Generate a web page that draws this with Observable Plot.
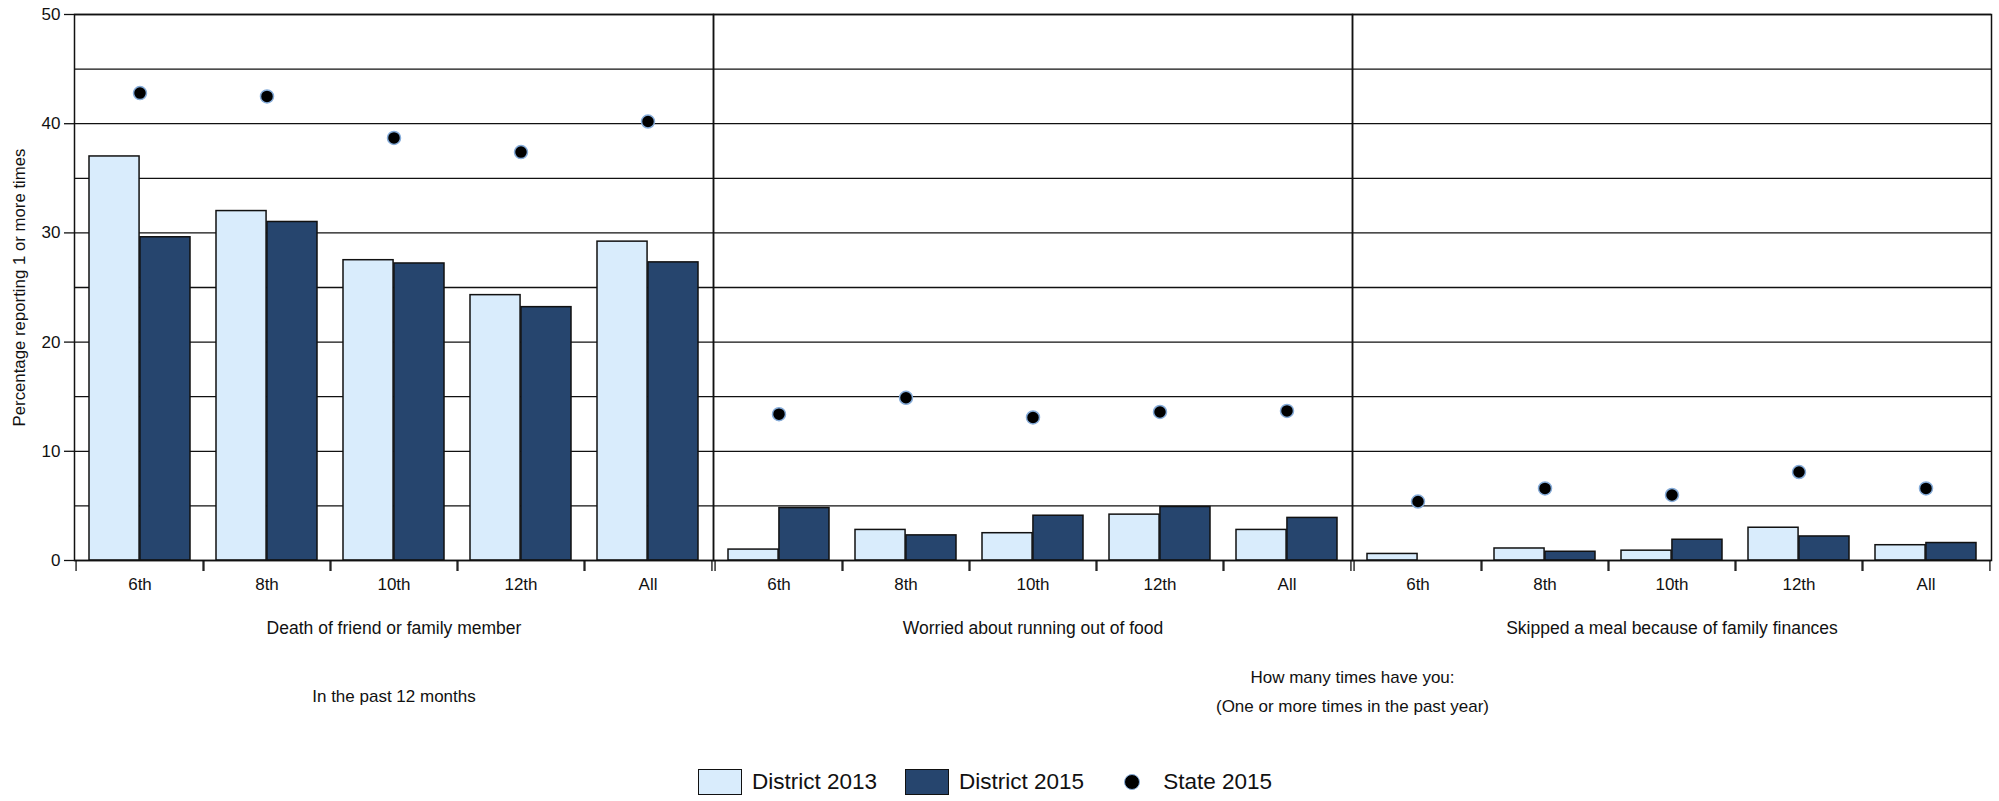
<!DOCTYPE html>
<html>
<head>
<meta charset="utf-8">
<script src="https://cdn.jsdelivr.net/npm/d3@7"></script>
<script src="https://cdn.jsdelivr.net/npm/@observablehq/plot@0.6"></script>
<style>
  html, body { margin: 0; padding: 0; background: #fff; }
  body { width: 1999px; font-family: 'Liberation Sans', Arial, sans-serif; color: #111; }
  #legend { display: flex; justify-content: center; align-items: center; padding-top: 22px; padding-right: 29px; font-size: 22.5px; line-height: 30px; }
  .item { display: flex; align-items: center; margin: 0 14px; }
  .sw { width: 44px; height: 26px; border: 1.5px solid #111; box-sizing: border-box; margin-right: 10px; }
  .dot { width: 16px; height: 16px; border-radius: 50%; background: #000; border: 1.5px solid #86acd9; box-sizing: border-box; margin-right: 23px; margin-left: 12px; }
</style>
</head>
<body>
<div id="chart"></div>
<div id="legend"></div>
<script>
// ---- data ----
const questions = ["Death of friend or family member", "Worried about running out of food", "Skipped a meal because of family finances"];
const grades = ["6th", "8th", "10th", "12th", "All"];
const district2013 = [
  [37.0, 32.0, 27.5, 24.3, 29.2],
  [1.0, 2.8, 2.5, 4.2, 2.8],
  [0.6, 1.1, 0.9, 3.0, 1.4]
];
const district2015 = [
  [29.6, 31.0, 27.2, 23.2, 27.3],
  [4.8, 2.3, 4.1, 4.9, 3.9],
  [0.0, 0.8, 1.9, 2.2, 1.6]
];
const state2015 = [
  [42.8, 42.5, 38.7, 37.4, 40.2],
  [13.4, 14.9, 13.1, 13.6, 13.7],
  [5.4, 6.6, 6.0, 8.1, 6.6]
];
const seriesNames = ["District 2013", "District 2015", "State 2015"];
const yTicks = [0, 10, 20, 30, 40, 50];
const gridTicks = [0, 5, 10, 15, 20, 25, 30, 35, 40, 45, 50];
const yTitle = "Percentage reporting 1 or more times";
const groupLabels = [
  {question: questions[0], text: "In the past 12 months", anchor: "bottom"},
  {question: questions[1], text: "How many times have you:\n(One or more times in the past year)", anchor: "bottom-right"}
];

// ---- build table ----
const rows = [];
questions.forEach((q, qi) => grades.forEach((g, gi) => rows.push({
  question: q, grade: g,
  d2013: district2013[qi][gi], d2015: district2015[qi][gi], state: state2015[qi][gi]
})));

// ---- layout ----
const W = 1999, H = 745, mL = 73, mR = 8, mT = 14, mB = 185;
const bw = (W - mL - mR) / questions.length / grades.length; // band width
const pad = 13, half = bw / 2;
const light = "#d9ecfc", dark = "#26456e", ink = "#111";
const font = "'Liberation Sans', Arial, sans-serif";

const chart = Plot.plot({
  width: W, height: H,
  marginLeft: mL, marginRight: mR, marginTop: mT, marginBottom: mB,
  style: {fontFamily: font, color: ink, background: "#fff"},
  fx: {domain: questions, padding: 0, axis: null},
  x: {domain: grades, padding: 0, axis: null},
  y: {domain: [0, 50], axis: null},
  marks: [
    Plot.gridY(gridTicks, {stroke: ink, strokeOpacity: 1, strokeWidth: 1.3}),
    Plot.barY(rows, {fx: "question", x: "grade", y: "d2013", fill: light, stroke: ink, strokeWidth: 1.5, insetLeft: pad, insetRight: bw - half}),
    Plot.barY(rows, {fx: "question", x: "grade", y: "d2015", fill: dark, stroke: ink, strokeWidth: 1.5, insetLeft: half, insetRight: pad}),
    Plot.dot(rows, {fx: "question", x: "grade", y: "state", r: 6.5, fill: "#000", stroke: "#86acd9", strokeWidth: 1.5}),
    Plot.frame({stroke: ink, strokeWidth: 1.5}),
    Plot.ruleX(grades, {x: d => d, dx: -half, y1: 0, y2: 0, insetBottom: -11, stroke: ink, strokeWidth: 1.3}),
    Plot.ruleX(grades, {x: d => d, dx: half, y1: 0, y2: 0, insetBottom: -11, stroke: ink, strokeWidth: 1.3}),
    Plot.axisY(yTicks, {tickSize: 10, tickPadding: 4, fontSize: 17, label: null, stroke: ink, strokeWidth: 1.3}),
    Plot.axisX({tickSize: 0, tickPadding: 17, fontSize: 17, label: null}),
    Plot.text(questions, {fx: d => d, text: d => d, frameAnchor: "bottom", dy: 73, fontSize: 17.5, fill: ink}),
    Plot.text(groupLabels, {fx: "question", text: "text", frameAnchor: "bottom", filter: d => d.anchor === "bottom", dy: 141, fontSize: 17, fill: ink}),
    Plot.text(groupLabels, {fx: "question", text: "text", frameAnchor: "bottom-right", textAnchor: "middle", filter: d => d.anchor === "bottom-right", dy: 151, lineHeight: 1.7, fontSize: 17, fill: ink}),
    Plot.text([yTitle], {fx: () => questions[0], text: d => d, frameAnchor: "left", textAnchor: "middle", rotate: -90, dx: -55, dy: 0, fontSize: 16.8, fill: ink})
  ]
});
document.getElementById("chart").appendChild(chart);

// ---- legend ----
const legend = document.getElementById("legend");
const legendStyles = [{cls: "sw", bg: light}, {cls: "sw", bg: dark}, {cls: "dot", bg: "#000"}];
seriesNames.forEach((name, i) => {
  const item = document.createElement("div");
  item.className = "item";
  const sw = document.createElement("span");
  sw.className = legendStyles[i].cls;
  sw.style.background = legendStyles[i].bg;
  const t = document.createElement("span");
  t.textContent = name;
  item.appendChild(sw);
  item.appendChild(t);
  legend.appendChild(item);
});
</script>
</body>
</html>
